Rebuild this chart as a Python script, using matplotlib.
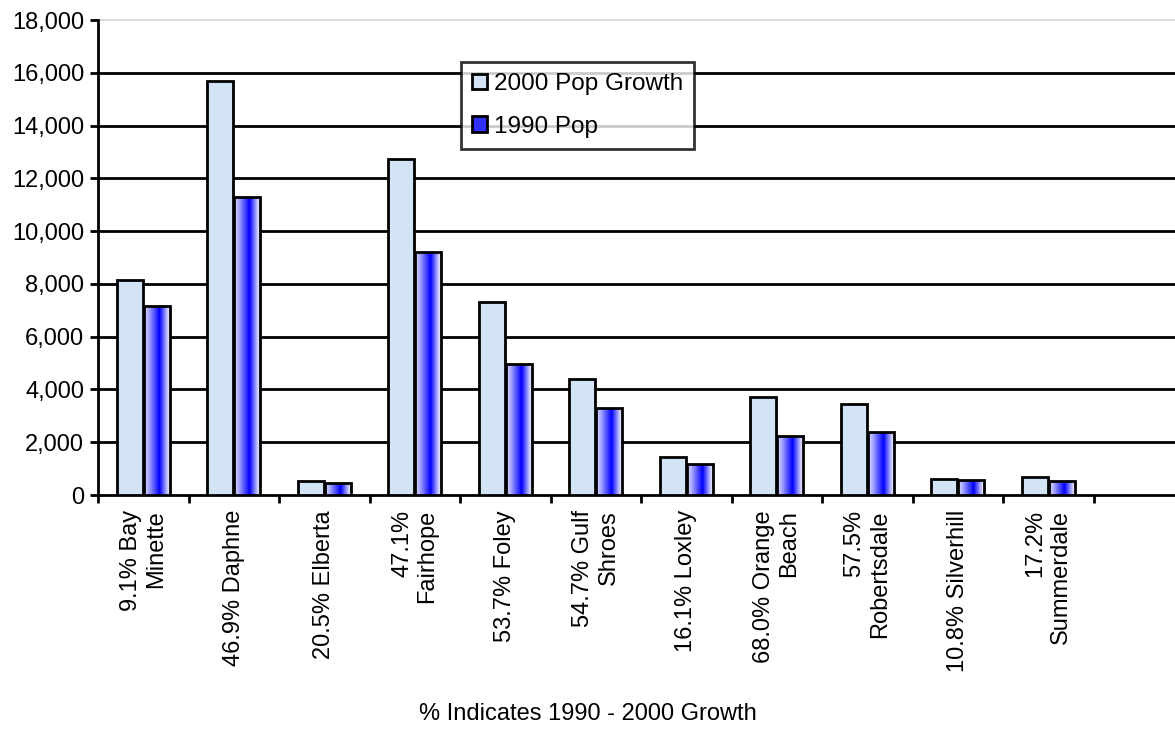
import numpy as np
import matplotlib.pyplot as plt
from matplotlib.colors import LinearSegmentedColormap
from matplotlib.ticker import FuncFormatter

plt.rcParams['font.family'] = ['Liberation Sans', 'DejaVu Sans']

# data
towns = ['9.1% Bay\nMinette', '46.9% Daphne', '20.5% Elberta', '47.1%\nFairhope',
         '53.7% Foley', '54.7% Gulf\nShroes', '16.1% Loxley', '68.0% Orange\nBeach',
         '57.5%\nRobertsdale', '10.8% Silverhill', '17.2%\nSummerdale']
pop_2000 = [8150, 15700, 530, 12750, 7300, 4400, 1440, 3710, 3450, 600, 680]
pop_1990 = [7150, 11300, 450, 9200, 4950, 3300, 1170, 2240, 2390, 570, 530]

fig = plt.figure(figsize=(11.75, 7.32), dpi=100)
ax = fig.add_axes([98 / 1175, 1 - 495 / 732, 1 - 98 / 1175, (495 - 20) / 732])

x = np.arange(len(towns))
w = 0.29
light = '#d3e4f7'

ax.bar(x - w / 2 - 0.005, pop_2000, w, color=light, edgecolor='black', linewidth=2, zorder=3,
       label='2000 Pop Growth')
bars = ax.bar(x + w / 2 + 0.005, pop_1990, w, color='none', edgecolor='black', linewidth=2,
              zorder=4, label='1990 Pop')

# white -> blue -> white shading on the 1990 bars
cmap = LinearSegmentedColormap.from_list('band', ['#ffffff', '#0000ff'])
prof = np.interp(np.linspace(0, 1, 64), [0, 0.15, 0.58, 0.9, 1], [0.15, 0.3, 1.0, 0.15, 0.05])
for b in bars:
    x0, h, bw = b.get_x(), b.get_height(), b.get_width()
    im = ax.imshow(prof[None, :], cmap=cmap, vmin=0, vmax=1, aspect='auto',
                   extent=(x0, x0 + bw, 0, h), zorder=3.5, interpolation='bilinear')
    im.set_clip_path(b)

ax.set_xlim(-0.5, 11.4)
ax.set_ylim(0, 18000)
ax.set_yticks(np.arange(0, 18001, 2000))
ax.yaxis.set_major_formatter(FuncFormatter(lambda v, p: f'{int(v):,}'))
for yv in range(2000, 18000, 2000):
    ax.axhline(yv, color='black', lw=2, zorder=1)
ax.axhline(18000, color='#dddddd', lw=1.5, zorder=1, clip_on=False)

ax.set_xticks(np.arange(-0.5, 11, 1))
ax.set_xticklabels([])
for i, t in enumerate(towns):
    ax.text(i, -570, t, rotation=90, ha='center', va='top', fontsize=17,
            multialignment='right', transform=ax.transData)

for s in ['top', 'right']:
    ax.spines[s].set_visible(False)
for s in ['left', 'bottom']:
    ax.spines[s].set_linewidth(2)
ax.tick_params(axis='both', direction='out', length=6, width=2, labelsize=17, pad=4)

leg = ax.legend(loc='upper left', bbox_to_anchor=((461 - 98) / 1077, 1 - (62 - 20) / 475),
                fontsize=17.5, frameon=True, fancybox=False, edgecolor='black',
                handlelength=0.6, handleheight=0.6, handletextpad=0.3,
                borderpad=0.45, labelspacing=0.85, borderaxespad=0)
leg.get_frame().set_linewidth(2)
leg.set_zorder(10)
leg.legend_handles[1].set_facecolor('#3030ff')
leg.legend_handles[1].set_edgecolor('black')

fig.text(588 / 1175, 1 - 714 / 732, '% Indicates 1990 - 2000 Growth', ha='center', va='center',
         fontsize=17)

fig.savefig('out.png', dpi=100)
